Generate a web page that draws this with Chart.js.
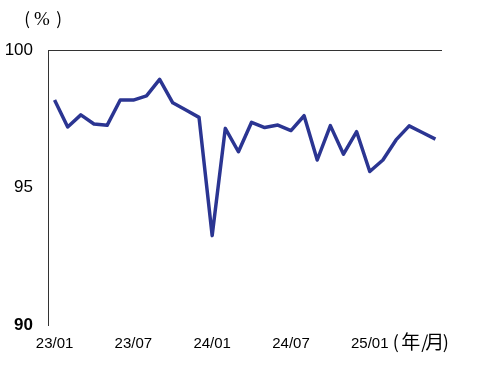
<!DOCTYPE html>
<html>
<head>
<meta charset="utf-8">
<script src="https://cdn.jsdelivr.net/npm/chart.js@4"></script>
<style>
  body { margin: 0; background: #fff; }
  #wrap { position: relative; width: 478px; height: 382px; }
</style>
</head>
<body>
<div id="wrap"><canvas id="myChart" width="478" height="382"></canvas></div>
<script>
// months 23/01 .. 25/06
const months = ['23/01','23/02','23/03','23/04','23/05','23/06','23/07','23/08','23/09','23/10','23/11','23/12',
                '24/01','24/02','24/03','24/04','24/05','24/06','24/07','24/08','24/09','24/10','24/11','24/12',
                '25/01','25/02','25/03','25/04','25/05','25/06'];
const rate = [98.18, 97.2, 97.64, 97.31, 97.26, 98.18, 98.18, 98.33, 98.93, 98.08, 97.82, 97.55,
              93.25, 97.15, 96.3, 97.37, 97.18, 97.27, 97.07, 97.61, 96.0, 97.25, 96.21, 97.03,
              95.58, 96.0, 96.73, 97.24, 97.0, 96.76];
const shownLabels = ['23/01','23/07','24/01','24/07','25/01'];
const yTicks = [90, 95, 100];

const FONT = '"Liberation Sans", Arial, sans-serif';
const CJK = '"Noto Sans CJK JP", sans-serif';

// unit labels: (%) top-left and (年/月) after the last tick label
const unitText = {
    id: 'unitText',
    afterDraw(chart) {
        const ctx = chart.ctx;
        const x = chart.scales.x;
        ctx.save();
        ctx.fillStyle = '#000';
        ctx.textBaseline = 'middle';
        ctx.textAlign = 'center';
        ctx.font = '17px ' + CJK;
        ctx.fillText('(', 27, 19);
        ctx.fillText(')', 59, 19);
        ctx.font = '19px "Liberation Serif", serif';
        ctx.fillText('%', 42, 20);

        // x unit, drawn glyph by glyph to keep the wide spacing
        const px = x.getPixelForValue(24);
        const y = 342;
        ctx.font = '18px ' + CJK;
        ctx.fillText('(', px + 26, y);
        ctx.fillText('/', px + 55, y);
        ctx.fillText(')', px + 76, y);
        ctx.font = '19px ' + CJK;
        ctx.fillText('年', px + 41, y);
        ctx.fillText('月', px + 65, y);
        ctx.restore();
    }
};

new Chart(document.getElementById('myChart'), {
    type: 'line',
    data: {
        labels: months,
        datasets: [{
            data: rate,
            borderColor: '#2b3592',
            borderWidth: 3.5,
            borderJoinStyle: 'round',
            pointRadius: 0,
            tension: 0,
            fill: false
        }]
    },
    options: {
        responsive: false,
        animation: false,
        layout: { padding: { top: 50, right: 36, left: 0, bottom: 0 } },
        plugins: { legend: { display: false }, tooltip: { enabled: false } },
        scales: {
            x: {
                offset: true,
                grid: { display: false },
                border: { display: false },
                ticks: {
                    autoSkip: false,
                    maxRotation: 0,
                    padding: 2,
                    color: '#000',
                    font: { family: FONT, size: 15 },
                    callback: function (v) {
                        const l = this.getLabelForValue(v);
                        return shownLabels.includes(l) ? l : '';
                    }
                },
                afterFit: s => { s.height = 57; }
            },
            y: {
                min: 90,
                max: 100,
                afterBuildTicks: s => { s.ticks = yTicks.map(v => ({ value: v })); },
                grid: {
                    drawTicks: false,
                    color: c => c.tick && c.tick.value === 100 ? '#333' : 'transparent',
                    lineWidth: 1
                },
                border: { display: true, color: '#333', width: 1 },
                ticks: {
                    padding: 15,
                    color: '#000',
                    font: c => ({ family: FONT, size: 17, weight: c.tick && c.tick.value === 90 ? 'bold' : 'normal' })
                },
                afterFit: s => { s.width = 48; }
            }
        }
    },
    plugins: [unitText]
});
</script>
</body>
</html>
